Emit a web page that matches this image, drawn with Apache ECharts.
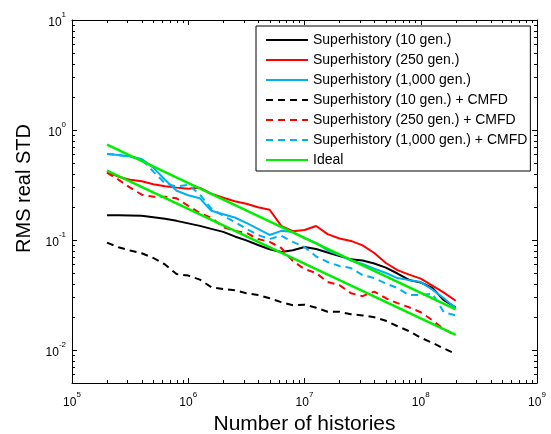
<!DOCTYPE html>
<html><head><meta charset="utf-8">
<script src="https://cdn.jsdelivr.net/npm/echarts@6/dist/echarts.min.js"></script>
<style>html,body{margin:0;padding:0;background:#fff}#c{width:551px;height:434px}</style>
</head><body><div id="c"></div>
<script>
// ---- data ----
const histories = [2.0e5, 2.51e5, 3.16e5, 3.98e5, 5.01e5, 6.31e5, 7.94e5, 1.0e6, 1.26e6, 1.58e6, 2.0e6, 2.51e6, 3.16e6, 3.98e6, 5.01e6, 6.31e6, 7.94e6, 1.0e7, 1.26e7, 1.58e7, 2.0e7, 2.51e7, 3.16e7, 3.98e7, 5.01e7, 6.31e7, 7.94e7, 1.0e8, 1.26e8, 1.58e8, 2.0e8];
const sh10 = [0.168,0.1677,0.167,0.1656,0.1605,0.1555,0.1491,0.1415,0.1342,0.126,0.1183,0.1076,0.099,0.09,0.0822,0.0777,0.0805,0.0863,0.0827,0.0769,0.0714,0.0666,0.065,0.061,0.056,0.0495,0.0433,0.041,0.0366,0.0283,0.0243];
const sh250 = [0.412,0.376,0.353,0.342,0.321,0.308,0.299,0.292,0.298,0.263,0.242,0.225,0.213,0.198,0.188,0.134,0.12,0.123,0.134,0.113,0.103,0.098,0.0891,0.0761,0.0617,0.0532,0.0484,0.0445,0.0384,0.0332,0.028];
const sh1000 = [0.606,0.591,0.573,0.544,0.455,0.353,0.28,0.255,0.239,0.184,0.171,0.16,0.143,0.126,0.111,0.121,0.118,0.104,0.0939,0.0802,0.073,0.065,0.0604,0.0549,0.05,0.045,0.0431,0.0414,0.0353,0.0295,0.0239];
const sh10c = [0.0945,0.0858,0.0802,0.0756,0.0685,0.0598,0.0489,0.0474,0.0436,0.0372,0.0357,0.0349,0.0328,0.0315,0.0295,0.0272,0.0255,0.0258,0.0242,0.0222,0.0222,0.0211,0.0206,0.0198,0.0184,0.0164,0.0148,0.0129,0.0116,0.0103,0.0092];
const sh250c = [0.409,0.353,0.299,0.258,0.247,0.247,0.239,0.204,0.176,0.159,0.131,0.121,0.116,0.102,0.0959,0.0845,0.0643,0.0543,0.05,0.0414,0.0388,0.0328,0.0308,0.0339,0.0295,0.0266,0.0244,0.022,0.0186,0.0154,0.0136];
const sh1000c = [0.606,0.591,0.573,0.538,0.418,0.328,0.305,0.318,0.258,0.192,0.166,0.146,0.126,0.111,0.102,0.109,0.0959,0.0863,0.0707,0.063,0.0579,0.0555,0.0479,0.045,0.0401,0.0365,0.0315,0.0315,0.0325,0.022,0.0206];
const idealX = [2e5, 2e8];
const idealHigh = [0.737, 0.0234];
const idealLow = [0.427, 0.0137];
const seriesNames = ['Superhistory (10 gen.)','Superhistory (250 gen.)','Superhistory (1,000 gen.)','Superhistory (10 gen.) + CMFD','Superhistory (250 gen.) + CMFD','Superhistory (1,000 gen.) + CMFD','Ideal'];
const xRange = [1e5, 1e9];
const yRange = [0.005, 10];
const minorMantissas = [2,3,4,5,6,7,8,9];
const xDecades = [1e5, 1e6, 1e7, 1e8];
const yDecades = [1e-3, 1e-2, 1e-1, 1];

// ---- chart ----
const FONT = '"Liberation Sans", Arial, Helvetica, sans-serif';
const BLACK = '#000000', RED = '#ff0000', BLUE = '#00b0f0', GREEN = '#00ee00';
function pairs(xs, ys) { return xs.map((x, i) => [x, ys[i]]); }
function expLabel(v) { const e = Math.round(Math.log10(v)); return '{b|10}{s|' + e + '}'; }
const rich = {
  b: { fontSize: 12, fontFamily: FONT, color: '#000', verticalAlign: 'bottom', lineHeight: 18 },
  s: { fontSize: 8, fontFamily: FONT, color: '#000', verticalAlign: 'top', lineHeight: 18 }
};
const xMinor = [], yMinor = [];
xDecades.forEach(d => minorMantissas.forEach(m => xMinor.push(m * d)));
yDecades.forEach(d => minorMantissas.forEach(m => { const v = m * d; if (v > yRange[0] * 1.0001 && v < yRange[1]) yMinor.push(v); }));

function axisCommon(extra) {
  return Object.assign({
    type: 'log', logBase: 10,
    axisLine: { show: true, onZero: false, lineStyle: { color: '#000', width: 1 } },
    axisTick: { show: true, inside: true, length: 5, lineStyle: { color: '#000', width: 1 } },
    splitLine: { show: false },
    minorTick: { show: false }
  }, extra);
}
const chart = echarts.init(document.getElementById('c'), null, { renderer: 'canvas' });
function lineSeries(name, ys, color, dashed) {
  return {
    name, type: 'line', xAxisIndex: 0, yAxisIndex: 0,
    data: pairs(histories, ys), symbol: 'none', showSymbol: false,
    lineStyle: { color, width: 2, type: dashed ? [7, 5] : 'solid' },
    itemStyle: { color }, animation: false, z: 3
  };
}
const minorTickSeriesX = {
  type: 'custom', xAxisIndex: 0, yAxisIndex: 0, silent: true, clip: false, animation: false, z: 5,
  data: xMinor.map(v => [v, 1]),
  renderItem: (p, api) => {
    const b = api.coord([api.value(0), yRange[0]]);
    const t = api.coord([api.value(0), yRange[1]]);
    const x = Math.round(b[0]) + 0.5;
    return { type: 'group', children: [
      { type: 'line', shape: { x1: x, y1: b[1], x2: x, y2: b[1] - 3 }, style: { stroke: '#000', lineWidth: 1 } },
      { type: 'line', shape: { x1: x, y1: t[1], x2: x, y2: t[1] + 3 }, style: { stroke: '#000', lineWidth: 1 } }
    ] };
  }
};
const minorTickSeriesY = {
  type: 'custom', xAxisIndex: 0, yAxisIndex: 0, silent: true, clip: false, animation: false, z: 5,
  data: yMinor.map(v => [1e6, v]),
  renderItem: (p, api) => {
    const l = api.coord([xRange[0], api.value(1)]);
    const r = api.coord([xRange[1], api.value(1)]);
    const y = Math.round(l[1]) + 0.5;
    return { type: 'group', children: [
      { type: 'line', shape: { x1: l[0], y1: y, x2: l[0] + 3, y2: y }, style: { stroke: '#000', lineWidth: 1 } },
      { type: 'line', shape: { x1: r[0], y1: y, x2: r[0] - 3, y2: y }, style: { stroke: '#000', lineWidth: 1 } }
    ] };
  }
};

const option = {
  backgroundColor: '#ffffff',
  animation: false,
  textStyle: { fontFamily: FONT },
  grid: { left: 72, right: 14, top: 20, bottom: 51, containLabel: false, outerBoundsMode: 'none' },
  legend: {
    data: seriesNames, orient: 'vertical', left: 256, top: 26,
    padding: [7, 3, 4, 9], itemGap: 6, itemWidth: 42, itemHeight: 14,
    itemStyle: { opacity: 0 },
    backgroundColor: '#ffffff', borderColor: '#000', borderWidth: 1, borderRadius: 0,
    textStyle: { fontSize: 14, fontFamily: FONT, color: '#000' },
    selectedMode: false
  },
  xAxis: [
    axisCommon({ position: 'bottom', min: xRange[0], max: xRange[1],
      axisLabel: { formatter: expLabel, rich, margin: 8 },
      name: 'Number of histories', nameLocation: 'middle', nameGap: 27,
      nameTextStyle: { fontSize: 21, fontFamily: FONT, color: '#000' } }),
    axisCommon({ position: 'top', min: xRange[0], max: xRange[1], axisLabel: { show: false } })
  ],
  yAxis: [
    axisCommon({ position: 'left', min: yRange[0], max: yRange[1],
      axisLabel: { formatter: expLabel, rich, margin: 6, showMinLabel: false },
      name: 'RMS real STD', nameLocation: 'middle', nameGap: 38,
      nameTextStyle: { fontSize: 20, fontFamily: FONT, color: '#000', padding: [0, 0, 0, 26] } }),
    axisCommon({ position: 'right', min: yRange[0], max: yRange[1], axisLabel: { show: false } })
  ],
  series: [
    lineSeries(seriesNames[0], sh10, BLACK, false),
    lineSeries(seriesNames[1], sh250, RED, false),
    lineSeries(seriesNames[2], sh1000, BLUE, false),
    lineSeries(seriesNames[3], sh10c, BLACK, true),
    lineSeries(seriesNames[4], sh250c, RED, true),
    lineSeries(seriesNames[5], sh1000c, BLUE, true),
    { name: 'Ideal', type: 'line', data: pairs(idealX, idealHigh), symbol: 'none', lineStyle: { color: GREEN, width: 2.5 }, itemStyle: { color: GREEN }, z: 4, animation: false },
    { name: 'Ideal', type: 'line', data: pairs(idealX, idealLow), symbol: 'none', lineStyle: { color: GREEN, width: 2.5 }, itemStyle: { color: GREEN }, z: 4, animation: false },
    minorTickSeriesX, minorTickSeriesY
  ]
};
chart.setOption(option);
</script></body></html>
